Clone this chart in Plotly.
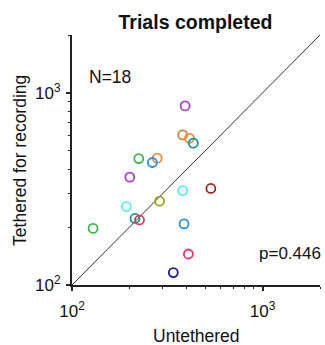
import plotly.graph_objects as go

untethered = [392, 381, 413, 433, 224, 280, 264, 201, 535, 381, 288, 193, 214, 226, 387, 129, 408, 340]
tethered = [855, 604, 580, 547, 455, 457, 434, 364, 318, 310, 273, 256, 222, 218, 208, 197, 145, 116]
colors = ["#a23fd0", "#c8843e", "#f28b30", "#19919a", "#3cb84a", "#f28b30", "#2a8ee0", "#a23fd0",
          "#a02222", "#55f0f5", "#a0a020", "#55f0f5", "#19919a", "#f0305e", "#2a8ee0", "#3cb84a",
          "#f0305e", "#1c1c9c"]
tick_vals = [100, 1000]
tick_text = ["10<sup>2</sup>", "10<sup>3</sup>"]
minor_vals = [200, 300, 400, 500, 600, 700, 800, 900, 2000]
lims = [100, 2000]

fig = go.Figure()
fig.add_trace(go.Scatter(x=lims, y=lims, mode="lines",
                         line=dict(color="#333333", width=1), hoverinfo="skip", showlegend=False))
fig.add_trace(go.Scatter(x=untethered, y=tethered, mode="markers",
                         marker=dict(symbol="circle-open", size=9, color=colors,
                                     line=dict(width=1.8, color=colors)),
                         showlegend=False))

axis_common = dict(type="log", range=[2, 3.30103], tickmode="array", tickvals=tick_vals,
                   ticktext=tick_text, showgrid=False, zeroline=False, showline=True,
                   linecolor="#222222", linewidth=2, ticks="outside", ticklen=4, tickwidth=1.5,
                   tickcolor="#222222", tickangle=0,
                   minor=dict(tickmode="array", tickvals=minor_vals, ticks="outside", ticklen=2,
                              tickwidth=1, tickcolor="#222222"),
                   tickfont=dict(size=17, color="#111111"))

fig.update_xaxes(**axis_common, ticklabelstandoff=6)
fig.update_yaxes(**axis_common, ticklabelstandoff=2)

txt = dict(color="#111111", size=17.5)
fig.add_annotation(x=0.5, y=-0.204, xref="paper", yref="paper", text="Untethered", showarrow=False,
                   xanchor="center", yanchor="middle", font=txt)
fig.add_annotation(x=-0.21, y=0.5, xref="paper", yref="paper", text="Tethered for recording",
                   showarrow=False, textangle=-90, xanchor="center", yanchor="middle", font=txt)
fig.add_annotation(x=0.06, y=0.834, xref="paper", yref="paper", text="N=18", showarrow=False,
                   xanchor="left", yanchor="middle", font=dict(size=17.5, color="#111111"))
fig.add_annotation(x=1.012, y=0.125, xref="paper", yref="paper", text="p=0.446", showarrow=False,
                   xanchor="right", yanchor="middle", font=dict(size=17, color="#111111"))

fig.update_layout(width=325, height=345, margin=dict(l=72, r=5, t=35, b=60),
                  paper_bgcolor="white", plot_bgcolor="white",
                  font=dict(family="Liberation Sans, Arial, sans-serif"),
                  title=dict(text="<b>Trials completed</b>", x=0.6015, xanchor="center", y=0.936,
                             yanchor="middle", font=dict(size=19.5, color="#111111")))

fig.write_html("out.html")
